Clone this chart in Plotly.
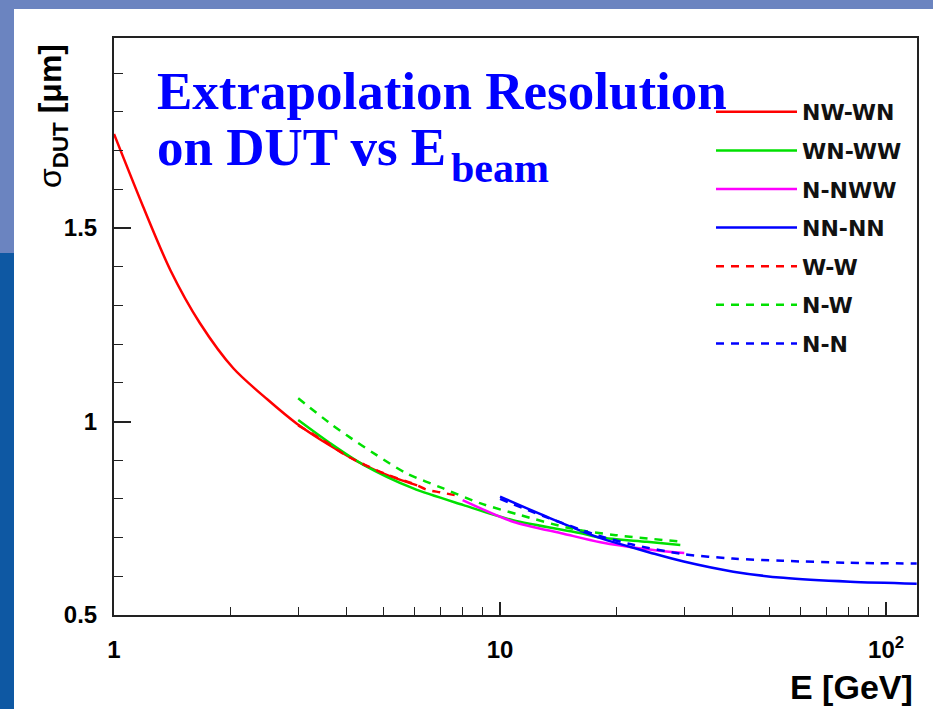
import plotly.graph_objects as go

# ---- data ----
E_nwwn = [1.0, 1.19, 1.40, 1.67, 2.04, 2.49, 2.97, 3.6, 4.4, 5.2, 6.1]
S_nwwn = [1.743, 1.555, 1.391, 1.254, 1.137, 1.058, 0.995, 0.940, 0.890, 0.858, 0.835]

E_wnww = [3.0, 3.63, 4.43, 5.96, 8.04, 10.8, 16.1, 18.2, 24.0, 29.3]
S_wnww = [1.004, 0.944, 0.888, 0.827, 0.784, 0.745, 0.712, 0.700, 0.689, 0.681]

E_nnww = [8.0, 10.8, 14.6, 18.2, 24.0, 30.0]
S_nnww = [0.797, 0.741, 0.710, 0.688, 0.670, 0.660]

E_nnnn = [10.0, 13.2, 17.8, 21.7, 24.5, 29.9, 40.2, 54.2, 80.7, 120.0]
S_nnnn = [0.806, 0.754, 0.702, 0.676, 0.661, 0.638, 0.612, 0.596, 0.586, 0.581]

E_ww = [3.0, 3.5, 4.0, 5.0, 6.0, 6.45, 7.0, 7.7]
S_ww = [0.99, 0.95, 0.912, 0.866, 0.838, 0.824, 0.817, 0.809]

E_nw = [3.0, 3.63, 4.0, 4.79, 5.73, 7.13, 8.87, 11.3, 15.2, 19.7, 29.9]
S_nw = [1.06, 0.995, 0.965, 0.913, 0.866, 0.827, 0.789, 0.758, 0.724, 0.707, 0.689]

E_nn = [10.0, 13.0, 18.0, 22.0, 30.0, 40.0, 54.0, 80.0, 120.0]
S_nn = [0.80, 0.755, 0.705, 0.682, 0.657, 0.646, 0.640, 0.635, 0.633]

x_tickvals = [1, 10, 100]
x_ticktext = ["1", "10", "10<sup>2</sup>"]
x_minor = [2, 3, 4, 5, 6, 7, 8, 9, 20, 30, 40, 50, 60, 70, 80, 90]
y_tickvals = [0.5, 1.0, 1.5]
y_ticktext = ["0.5", "1", "1.5"]
y_minor = [0.6, 0.7, 0.8, 0.9, 1.1, 1.2, 1.3, 1.4, 1.6, 1.7, 1.8, 1.9]

series = [
    ("NW-WN", E_nwwn, S_nwwn, "#ff0000", "solid"),
    ("WN-WW", E_wnww, S_wnww, "#00e000", "solid"),
    ("N-NWW", E_nnww, S_nnww, "#ff00ff", "solid"),
    ("NN-NN", E_nnnn, S_nnnn, "#0000ff", "solid"),
    ("W-W", E_ww, S_ww, "#ff0000", "8px,7px"),
    ("N-W", E_nw, S_nw, "#00e000", "8px,7px"),
    ("N-N", E_nn, S_nn, "#0000ff", "8px,7px"),
]

W, H = 933, 709
L, R, T, B = 114, 16, 38, 94
pw, ph = W - L - R, H - T - B


def px(x):
    return (x - L) / pw


def py(y):
    return (H - B - y) / ph


fig = go.Figure()
for i, (name, xs, ys, col, dash) in enumerate(series):
    fig.add_trace(go.Scatter(
        x=xs, y=ys, mode="lines", name=name, legendgroup=f"g{i}",
        line=dict(color=col, width=2.5, dash=dash, shape="spline", smoothing=0.8),
    ))

axis_font = dict(family="Liberation Sans, Arial", size=24, color="black", weight="bold")

fig.update_layout(
    width=W, height=H,
    margin=dict(l=L, r=R, t=T, b=B, pad=0),
    paper_bgcolor="#0e58a3",
    plot_bgcolor="white",
    showlegend=True,
    legend=dict(
        x=px(711), y=py(91), xanchor="left", yanchor="top",
        bgcolor="rgba(0,0,0,0)", borderwidth=0,
        font=dict(family="DejaVu Sans", size=22, color="#111111", weight="bold"),
        traceorder="grouped", tracegroupgap=7, itemwidth=81,
    ),
    xaxis=dict(
        type="log", range=[0, 2.08], showgrid=False, zeroline=False,
        tickmode="array", tickvals=x_tickvals, ticktext=x_ticktext,
        ticks="inside", ticklen=13, tickwidth=1.5, tickcolor="#222",
        minor=dict(ticks="inside", ticklen=8, tickwidth=1.2, tickcolor="#222",
                   tickvals=x_minor, showgrid=False),
        showline=True, linecolor="#222", linewidth=2, mirror=True,
        tickfont=axis_font, ticklabelstandoff=12,
    ),
    yaxis=dict(
        range=[0.5, 0.5 + 577 / 387], showgrid=False, zeroline=False,
        tickmode="array", tickvals=y_tickvals, ticktext=y_ticktext,
        ticks="inside", ticklen=17, tickwidth=1.5, tickcolor="#222",
        minor=dict(ticks="inside", ticklen=9, tickwidth=1.2, tickcolor="#222",
                   tickvals=y_minor, showgrid=False),
        showline=True, linecolor="#222", linewidth=2, mirror=True,
        tickfont=axis_font, ticklabelstandoff=10,
    ),
    shapes=[
        dict(type="rect", xref="paper", yref="paper", layer="below",
             x0=px(-5), x1=px(W + 5), y0=py(253), y1=py(-5),
             fillcolor="#6b84c0", line=dict(width=0)),
        dict(type="rect", xref="paper", yref="paper", layer="below",
             x0=px(14), x1=px(W + 5), y0=py(H + 5), y1=py(9),
             fillcolor="white", line=dict(width=0)),
    ],
)

title_font = dict(family="Liberation Serif, Times New Roman", size=53, color="#0000ff", weight="bold")
fig.add_annotation(text="Extrapolation Resolution", xref="paper", yref="paper",
                   x=px(155), y=py(91), xanchor="left", yanchor="middle",
                   showarrow=False, font=title_font)
fig.add_annotation(text="on DUT vs E", xref="paper", yref="paper",
                   x=px(155), y=py(147), xanchor="left", yanchor="middle",
                   showarrow=False, font=title_font)
fig.add_annotation(text="beam", xref="paper", yref="paper",
                   x=px(449), y=py(168), xanchor="left", yanchor="middle",
                   showarrow=False,
                   font=dict(family="Liberation Serif, Times New Roman", size=42,
                             color="#0000ff", weight="bold"))

fig.add_annotation(text="σ<sub><b>DUT</b></sub> <b>[μm]</b>", xref="paper", yref="paper",
                   x=px(53), y=py(116), xanchor="center", yanchor="middle",
                   textangle=-90, showarrow=False,
                   font=dict(family="Liberation Sans, Arial", size=32, color="black"))
fig.add_annotation(text="E [GeV]", xref="paper", yref="paper",
                   x=px(915), y=py(687), xanchor="right", yanchor="middle",
                   showarrow=False,
                   font=dict(family="Liberation Sans, Arial", size=34, color="black", weight="bold"))

fig.write_html("out.html")
